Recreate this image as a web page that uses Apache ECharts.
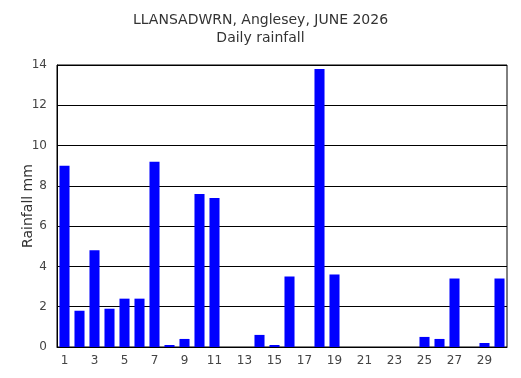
<!DOCTYPE html>
<html>
<head>
<meta charset="utf-8">
<script src="https://cdn.jsdelivr.net/npm/echarts@6/dist/echarts.min.js"></script>
<style>
  html, body { margin: 0; padding: 0; background: #fff; }
  #chart { width: 521px; height: 378px; }
</style>
</head>
<body>
<div id="chart"></div>
<script>
var days = [];
for (var d = 1; d <= 30; d++) days.push(String(d));

var rainfall = [9.0, 1.8, 4.8, 1.9, 2.4, 2.4, 9.2, 0.1, 0.4, 7.6,
                7.4, 0, 0, 0.6, 0.1, 3.5, 0, 13.8, 3.6, 0,
                0, 0, 0, 0, 0.5, 0.4, 3.4, 0, 0.2, 3.4];

var myChart = echarts.init(document.getElementById('chart'));

var option = {
  animation: false,
  backgroundColor: '#fff',
  title: {
    text: 'LLANSADWRN, Anglesey, JUNE 2026\nDaily rainfall',
    left: 'center',
    top: 6,
    textStyle: {
      fontFamily: 'DejaVu Sans',
      fontSize: 14,
      fontWeight: 'normal',
      color: '#333',
      lineHeight: 18
    }
  },
  grid: {
    left: 57,
    right: 14,
    top: 65,
    bottom: 31,
    show: true,
    borderColor: '#000',
    borderWidth: 1
  },
  xAxis: {
    type: 'category',
    data: days,
    axisTick: { show: false },
    axisLine: { lineStyle: { color: '#000' } },
    axisLabel: {
      interval: 1,
      color: '#444',
      fontFamily: 'DejaVu Sans',
      fontSize: 12,
      margin: 8
    }
  },
  yAxis: {
    type: 'value',
    min: 0,
    max: 14,
    interval: 2,
    name: 'Rainfall mm',
    nameLocation: 'middle',
    nameGap: 22,
    nameMoveOverlap: false,
    nameTextStyle: {
      fontFamily: 'DejaVu Sans',
      fontSize: 14,
      color: '#333'
    },
    axisLine: { show: true, lineStyle: { color: '#000' } },
    axisTick: { show: false },
    axisLabel: {
      color: '#444',
      fontFamily: 'DejaVu Sans',
      fontSize: 12,
      margin: 10
    },
    splitLine: { lineStyle: { color: '#000', width: 1 } }
  },
  series: [
    {
      name: 'Daily rainfall',
      type: 'bar',
      data: rainfall,
      barCategoryGap: '33%',
      itemStyle: { color: '#0000ff' }
    }
  ]
};

myChart.setOption(option);
</script>
</body>
</html>
